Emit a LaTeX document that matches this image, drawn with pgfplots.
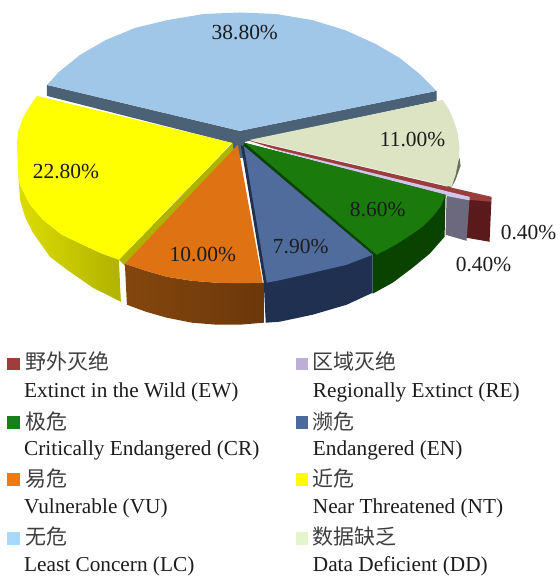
\documentclass[border=0pt]{standalone}
\usepackage{fontspec}
\setmainfont{Liberation Serif}
\newfontfamily\cjk{Noto Sans CJK SC}
\usepackage{pgfplots}
\pgfplotsset{compat=1.18}

% top faces
\definecolor{lcT}{HTML}{A0C6E8}
\definecolor{ddT}{HTML}{DCE4C4}
\definecolor{ntT}{HTML}{FFFF00}
\definecolor{vuT}{HTML}{DF7212}
\definecolor{enT}{HTML}{4F6C9C}
\definecolor{crT}{HTML}{1A7A0C}
\definecolor{ewT}{HTML}{9A3D3D}
\definecolor{reT}{HTML}{CFC6EA}
% side walls
\definecolor{lcW}{HTML}{4B6176}
\definecolor{ddW}{HTML}{6A7058}
\definecolor{ntWa}{HTML}{DDDD00}
\definecolor{ntWb}{HTML}{B0B200}
\definecolor{vuWa}{HTML}{84460E}
\definecolor{vuWb}{HTML}{6C380A}
\definecolor{enW}{HTML}{1F3050}
\definecolor{crW}{HTML}{0A4200}
\definecolor{ewW}{HTML}{5A1A1C}
\definecolor{reW}{HTML}{6C687E}
\definecolor{txt}{HTML}{1C1C1C}
% legend keys
\definecolor{kEW}{HTML}{A03C3C}
\definecolor{kRE}{HTML}{BDAED8}
\definecolor{kCR}{HTML}{16801A}
\definecolor{kEN}{HTML}{4A6A9E}
\definecolor{kVU}{HTML}{EE7A12}
\definecolor{kNT}{HTML}{FFFF00}
\definecolor{kLC}{HTML}{A8D8FA}
\definecolor{kDD}{HTML}{E4F4CC}

\newcommand{\pct}[3]{\node[font=\fontsize{21.5}{24}\selectfont,text=txt] at (axis cs:#1,#2) {#3};}
\newcommand{\cn}[3]{\node[anchor=west,inner sep=0pt,font=\fontsize{21}{24}\cjk,text=txt!85] at (axis cs:#1,#2) {#3};}
\newcommand{\en}[3]{\node[anchor=base west,inner sep=0pt,font=\fontsize{21.3}{24}\selectfont,text=txt] at (axis cs:#1,#2) {#3};}

\begin{document}
\begin{tikzpicture}
\begin{axis}[
    hide axis,
    scale only axis,
    width=558pt,
    height=576pt,
    xmin=0, xmax=558,
    ymin=0, ymax=576,
    y dir=reverse,
    clip=false,
]

% Data Deficient wall sliver
\addplot[draw=none, fill=ddW] coordinates {(460,158) (461,166) (456,180) (451,189) (447,186)} -- cycle;

% Least Concern
\addplot[draw=none, fill=lcW] coordinates {(47,85) (47,96) (232,143) (236,158) (246,158) (245,142) (437,101) (437,91) (240,131)} -- cycle;
\addplot[draw=none, fill=lcT] coordinates {
    (47,85) (59,72) (80,55) (106,40) (135,28) (168,20) (204,14) (240,12.5)
    (276,14) (312,20) (345,30) (376,44) (400,58) (420,74) (437,91) (240,131)
} -- cycle;

% Data Deficient
\addplot[draw=none, fill=ddT] coordinates {
    (443,100) (449,109) (454,120) (458,133) (460,147) (459,160) (456,175) (452,187) (250,140)
} -- cycle;

% Extinct in the Wild
\addplot[draw=none, fill=ewW] coordinates {(468,199) (492,198) (490,242) (467,238)} -- cycle;
\addplot[draw=none, fill=ewT] coordinates {(247,140) (457,189) (492,197) (491,202) (470,200) (280,151)} -- cycle;

% Regionally Extinct
\addplot[draw=none, fill=reW] coordinates {(447,195) (470,199) (467,241) (446,235)} -- cycle;
\addplot[draw=none, fill=reT] coordinates {(250,143) (470,197) (470,200.5) (446,196)} -- cycle;

% Critically Endangered
\addplot[draw=none, fill=crW] coordinates {
    (446,195) (445,237) (430,254) (413,268) (393,283) (373,294) (373,255) (243,147) (245,143)
} -- cycle;
\addplot[draw=none, fill=crT] coordinates {
    (245,143) (446,195) (441,207) (433,217) (424,226) (413,234) (396,245) (377,255)
} -- cycle;

% Endangered
\addplot[draw=none, fill=enW] coordinates {
    (241,145) (264,283) (266,323) (280,322) (313,315) (347,305) (373,293) (373,255)
} -- cycle;
\addplot[draw=none, fill=enT] coordinates {
    (244,146) (267,283) (280,280.5) (313,273) (347,265) (373,255)
} -- cycle;

% Near Threatened
\addplot[draw=none, left color=ntWa, right color=ntWb] coordinates {
    (18,170) (20,185) (30,205) (43,220) (62,235) (83,245) (100,253) (119,260)
    (121,302) (93,288) (67,270) (50,257) (33,233) (25,217) (20,200)
} -- cycle;
\addplot[draw=none, fill=ntWb] coordinates {(233,143) (233,153) (125,266) (119,260)} -- cycle;
\addplot[draw=none, fill=ntT] coordinates {
    (37,96) (30,106) (23,118) (18,132) (17,143) (18,170) (20,185) (30,205) (43,220)
    (62,235) (83,245) (100,253) (119,260) (232,143)
} -- cycle;

% Vulnerable
\addplot[draw=none, left color=vuWa, right color=vuWb] coordinates {
    (125,264) (146,271) (167,277) (192,281) (217,283) (240,283.5) (264,283)
    (264,323) (240,325) (217,325) (192,323) (167,318) (146,312) (127,305)
} -- cycle;
\addplot[draw=none, fill=vuT] coordinates {
    (238,145) (125,264) (146,271) (167,277) (192,281) (217,283) (240,283.5) (263,283)
} -- cycle;

% legend keys
\addplot[only marks, mark=square*, mark size=5.8pt, color=kEW] coordinates {(13,364)};
\addplot[only marks, mark=square*, mark size=5.8pt, color=kRE] coordinates {(302,364)};
\addplot[only marks, mark=square*, mark size=5.8pt, color=kCR] coordinates {(13,422.5)};
\addplot[only marks, mark=square*, mark size=5.8pt, color=kEN] coordinates {(302,422.5)};
\addplot[only marks, mark=square*, mark size=5.8pt, color=kVU] coordinates {(13,479.5)};
\addplot[only marks, mark=square*, mark size=5.8pt, color=kNT] coordinates {(302,479.5)};
\addplot[only marks, mark=square*, mark size=5.8pt, color=kLC] coordinates {(13,538.5)};
\addplot[only marks, mark=square*, mark size=5.8pt, color=kDD] coordinates {(302,538.5)};

% percentages
\pct{245}{33}{38.80\%}
\pct{413}{140}{11.00\%}
\pct{66}{172}{22.80\%}
\pct{203}{255}{10.00\%}
\pct{301}{247}{7.90\%}
\pct{378}{210}{8.60\%}
\pct{529}{233}{0.40\%}
\pct{484}{265}{0.40\%}

% legend text
\cn{25}{362}{野外灭绝}
\en{24}{398}{Extinct in the Wild (EW)}
\cn{313}{362}{区域灭绝}
\en{313}{398}{Regionally Extinct (RE)}
\cn{25}{422}{极危}
\en{24}{456}{Critically Endangered (CR)}
\cn{313}{422}{濒危}
\en{313}{456}{Endangered (EN)}
\cn{25}{479}{易危}
\en{24}{514}{Vulnerable (VU)}
\cn{313}{479}{近危}
\en{313}{514}{Near Threatened (NT)}
\cn{25}{537}{无危}
\en{24}{572}{Least Concern (LC)}
\cn{313}{537}{数据缺乏}
\en{313}{572}{Data Deficient (DD)}

\end{axis}
\path (0,0) rectangle (558pt,576pt);
\end{tikzpicture}
\end{document}
